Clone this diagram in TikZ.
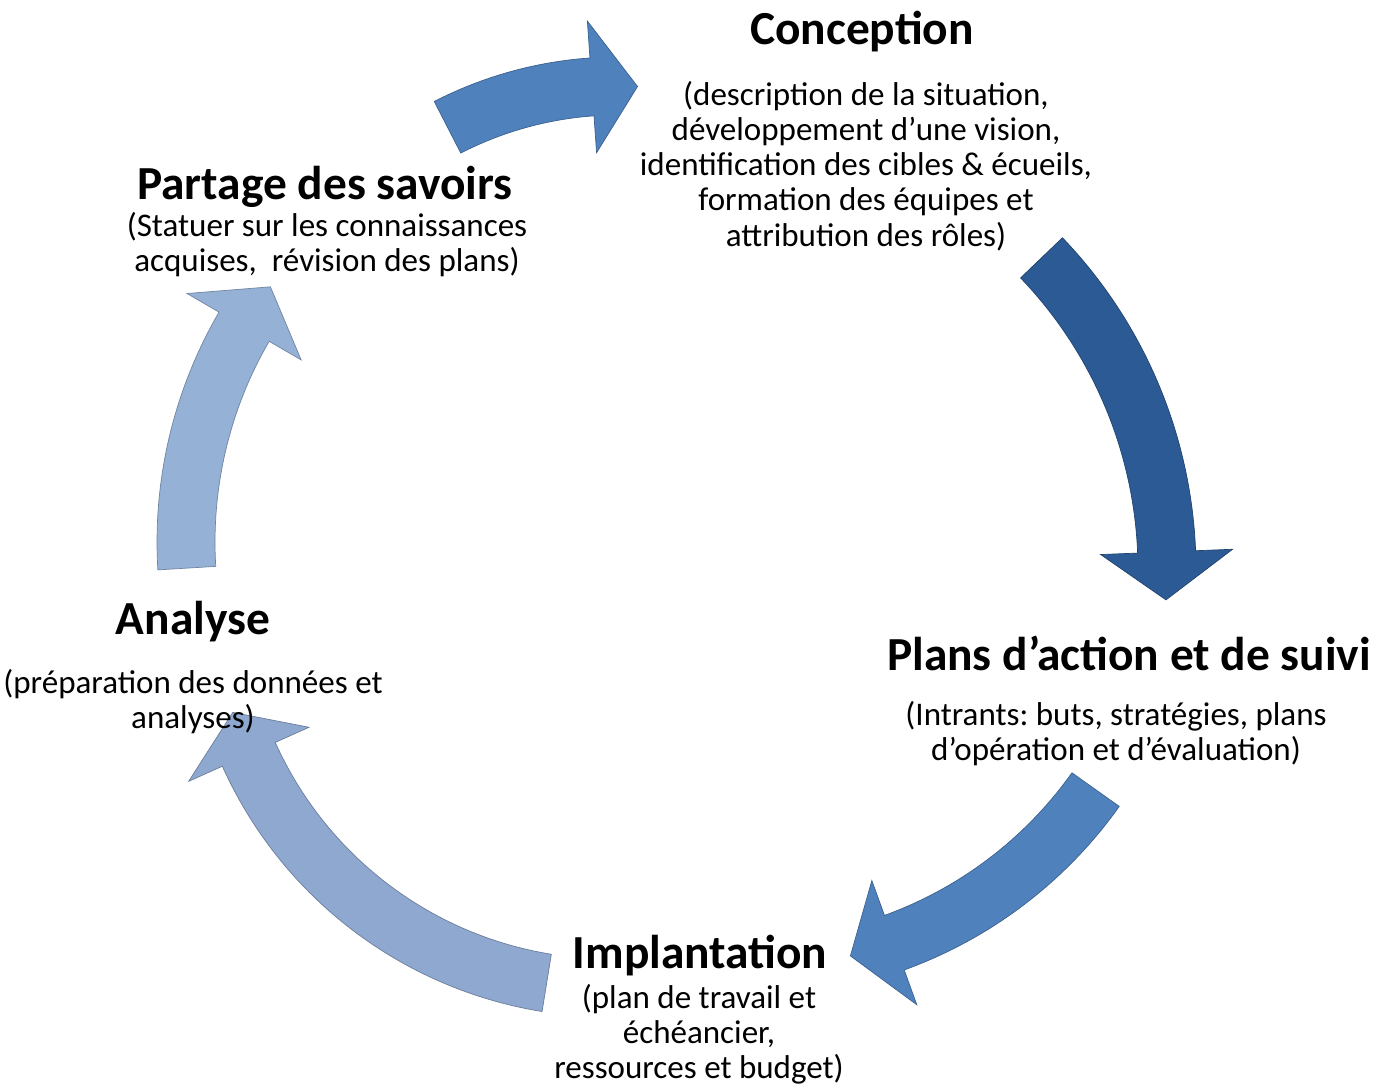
\documentclass[tikz,border=0pt]{standalone}
\usepackage{fontspec}
\setmainfont{Carlito}
\frenchspacing
\usetikzlibrary{calc}
\definecolor{arrowblue}{RGB}{79,129,189}
\definecolor{arrowdark}{RGB}{44,90,148}
\definecolor{arrowpale}{RGB}{143,168,208}
\definecolor{arrowlight}{RGB}{149,177,214}
\def\cyclearrow[#1](#2)(#3:#4:#5:#6){\path[#1] ($(#2)+({#4}:{#3+29})$) arc ({#4}:{#5}:{#3+29}) -- ($(#2)+({#5}:{#3+66})$) -- ($(#2)+({#6}:{#3})$) -- ($(#2)+({#5}:{#3-66})$) -- ($(#2)+({#5}:{#3-29})$) arc ({#5}:{#4}:{#3-29}) -- cycle;}
\tikzset{
	phasetitle/.style={font=\fontsize{27}{32}\selectfont\bfseries, align=center},
	phasetext/.style={font=\fontsize{18.8}{20}\selectfont, align=center},
	arrowfill/.style={fill=#1, draw=#1!75!black, line width=0.4pt}
}

\begin{document}
\begin{tikzpicture}[x=0.02cm, y=-0.02cm]
		%%%%% START %%%%%
		\useasboundingbox (0, 0) rectangle (1377, 1084);
		
		\cyclearrow[arrowfill=arrowblue](618, 459)(373:-117.2:-94:-87)
		\cyclearrow[arrowfill=arrowdark](716, 570)(451:-43.8:-2.3:3.8)
		\cyclearrow[arrowfill=arrowblue](750, 544)(424:35.4:70.1:76.3)
		\cyclearrow[arrowfill=arrowpale](610, 592)(396:99.2:155.8:162.3)
		\cyclearrow[arrowfill=arrowlight](614, 542)(428:176.5:210.2:216.6)
		
		\node[phasetitle] (conception) at (862, 32) {Conception};
		\node[phasetext] (conceptiontext) at (866, 166) {(description de la situation,\\développement d’une vision,\\identification des cibles \& écueils,\\formation des équipes et\\attribution des rôles)};
		
		\node[phasetitle] (plans) at (1129, 653) {Plans d’action et de suivi};
		\node[phasetext] (planstext) at (1116, 734) {(Intrants: buts, stratégies, plans\\d’opération et d’évaluation)};
		
		\node[phasetitle] (implantation) at (700, 956) {Implantation};
		\node[phasetext] (implantationtext) at (699, 1034) {(plan de travail et\\échéancier,\\ressources et budget)};
		
		\node[phasetitle] (analyse) at (193, 622) {Analyse};
		\node[phasetext] (analysetext) at (193, 702) {(préparation des données et\\analyses)};
		
		\node[phasetitle] (partage) at (325, 187) {Partage des savoirs};
		\node[phasetext] (partagetext) at (327, 245) {(Statuer sur les connaissances\\acquises,~ révision des plans)};
		
		%%%%% END %%%%%
	\end{tikzpicture}
\end{document}
